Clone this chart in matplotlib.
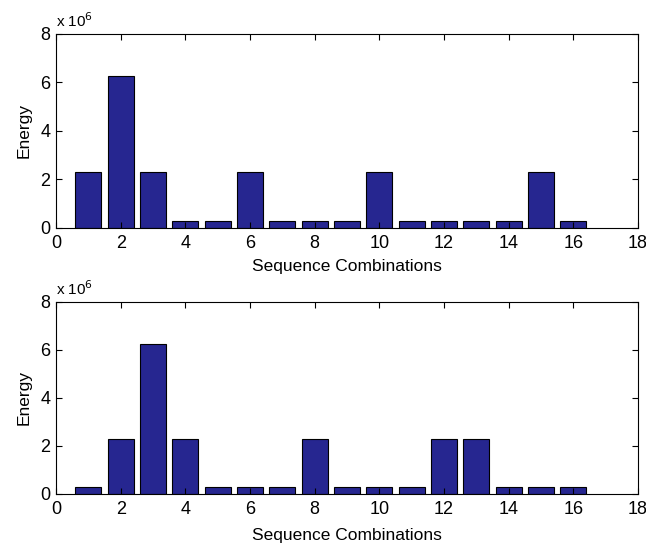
import matplotlib
matplotlib.use("Agg")
import matplotlib.pyplot as plt
from matplotlib.ticker import FuncFormatter

plt.rcParams['font.family'] = ['Liberation Sans', 'DejaVu Sans']

combos = list(range(1, 17))
energy_top = [2.3e6, 6.25e6, 2.3e6, 0.3e6, 0.3e6, 2.3e6, 0.3e6, 0.3e6,
              0.3e6, 2.3e6, 0.3e6, 0.3e6, 0.3e6, 0.3e6, 2.3e6, 0.3e6]
energy_bottom = [0.3e6, 2.3e6, 6.25e6, 2.3e6, 0.3e6, 0.3e6, 0.3e6, 2.3e6,
                 0.3e6, 0.3e6, 0.3e6, 2.3e6, 2.3e6, 0.3e6, 0.3e6, 0.3e6]

x_ticks = list(range(0, 19, 2))
y_ticks = [0, 2e6, 4e6, 6e6, 8e6]

bar_color = '#262690'
fs = 13

fig = plt.figure(figsize=(6.46, 5.44), dpi=100)
ax_top = fig.add_axes([0.0867, 0.581, 0.901, 0.3565])
ax_bot = fig.add_axes([0.0867, 0.092, 0.901, 0.353])

for ax, vals, lp in ((ax_top, energy_top, 5), (ax_bot, energy_bottom, 7)):
    ax.bar(combos, vals, width=0.8, color=bar_color, edgecolor='black', linewidth=0.8)
    ax.set_xlim(0, 18)
    ax.set_ylim(0, 8e6)
    ax.set_xticks(x_ticks)
    ax.set_yticks(y_ticks)
    ax.yaxis.set_major_formatter(FuncFormatter(lambda v, p: f"{v/1e6:g}"))
    ax.tick_params(direction='in', top=True, right=True, length=4, width=0.8,
                   labelsize=fs)
    ax.tick_params(axis='x', pad=5)
    ax.tick_params(axis='y', pad=4)
    for s in ax.spines.values():
        s.set_linewidth(0.8)
    ax.set_xlabel('Sequence Combinations', fontsize=12.5, labelpad=lp)
    ax.set_ylabel('Energy', fontsize=12.5, labelpad=6)
    ax.text(0.0, 1.02, r'x 10$^{6}$', transform=ax.transAxes, fontsize=11,
            ha='left', va='bottom')

fig.savefig('out.png', dpi=100)
